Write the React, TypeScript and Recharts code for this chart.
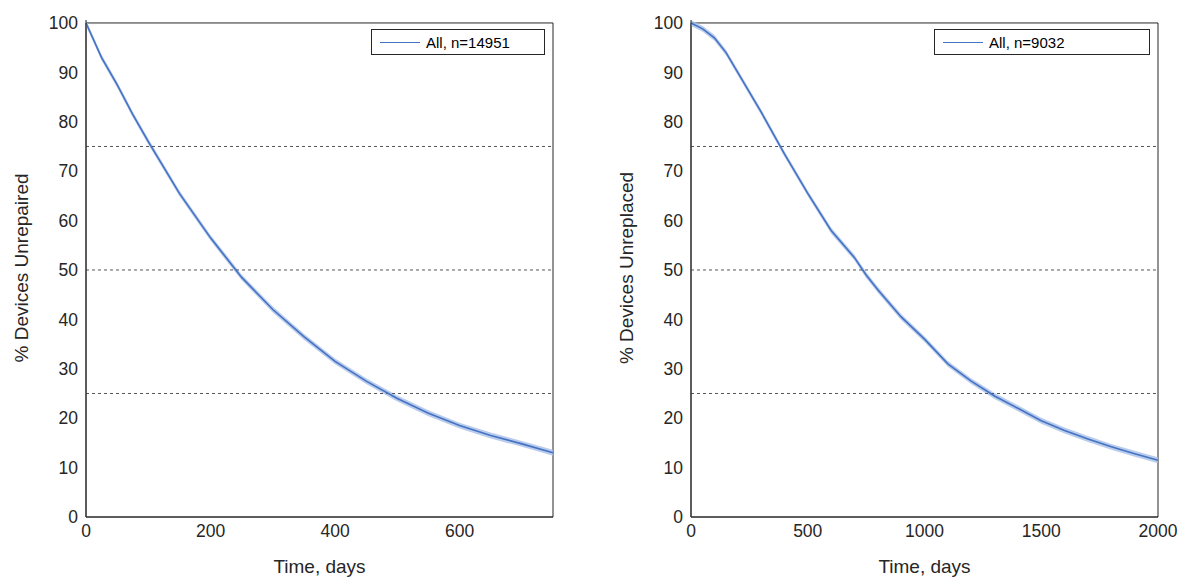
import React from 'react'
import {
  Area,
  ComposedChart,
  Line,
  ReferenceArea,
  ReferenceLine,
  XAxis,
  YAxis,
} from 'recharts'

const repairDays = [0, 25, 50, 75, 100, 150, 200, 250, 300, 350, 400, 450, 500, 550, 600, 650, 700, 750]
const repairPct = [100, 93, 87.5, 81.5, 76, 65.5, 56.5, 48.5, 42, 36.5, 31.5, 27.5, 24, 21, 18.5, 16.5, 14.8, 13]
const replaceDays = [0, 50, 100, 150, 200, 300, 400, 500, 600, 700, 750, 800, 900, 1000, 1100, 1200, 1300, 1400, 1500, 1600, 1700, 1800, 1900, 2000]
const replacePct = [100, 98.8, 97, 94, 90, 82, 73.5, 65.5, 58, 52.5, 49, 46, 40.5, 36, 31, 27.5, 24.5, 22, 19.5, 17.5, 15.8, 14.2, 12.8, 11.5]
const yTicks = [0, 10, 20, 30, 40, 50, 60, 70, 80, 90, 100]
const repairTicks = [0, 200, 400, 600]
const replaceTicks = [0, 500, 1000, 1500, 2000]

const build = (xs: number[], ys: number[]) =>
  xs.map((x, i) => ({ x, y: ys[i], band: [ys[i] - 0.6, ys[i] + 0.6] }))

const font = '"Liberation Sans", Arial, sans-serif'
const tick = { fill: '#262626', fontSize: 17.5, fontFamily: font }

const Panel = ({
  data,
  xMax,
  xTicks,
  yLabel,
  legend,
  left,
  right,
  legendWidth,
  labelX,
}: {
  data: any[]
  xMax: number
  xTicks: number[]
  yLabel: string
  legend: string
  left: number
  right: number
  legendWidth: number
  labelX: number
}) => (
  <div style={{ position: 'relative', width: 592, height: 578 }}>
    <ComposedChart
      width={592}
      height={578}
      data={data}
      margin={{ top: 20, right, bottom: 21, left: left - 60 }}
    >
      <XAxis
        dataKey="x"
        type="number"
        domain={[0, xMax]}
        ticks={xTicks}
        tick={tick}
        tickLine={false}
        axisLine={{ stroke: '#262626' }}
        height={40}
        label={{ value: 'Time, days', position: 'insideBottom', offset: -16, fill: '#262626', fontSize: 19, fontFamily: font }}
      />
      <YAxis
        type="number"
        domain={[0, 100]}
        ticks={yTicks}
        tick={tick}
        tickLine={false}
        axisLine={{ stroke: '#262626' }}
        width={60}
      />
      <ReferenceArea x1={0} x2={xMax} y1={0} y2={100} fill="none" stroke="#262626" strokeOpacity={1} />
      {[25, 50, 75].map((v) => (
        <ReferenceLine key={v} y={v} stroke="#555" strokeDasharray="3 3" />
      ))}
      <Area dataKey="band" stroke="none" fill="#a9bfe6" fillOpacity={0.8} isAnimationActive={false} />
      <Line dataKey="y" stroke="#4472c4" strokeWidth={1.6} dot={false} isAnimationActive={false} />
    </ComposedChart>
    <div
      style={{
        position: 'absolute',
        left: labelX - 150,
        top: 268 - 12,
        width: 300,
        textAlign: 'center',
        transform: 'rotate(-90deg)',
        fontFamily: font,
        fontSize: 19,
        color: '#262626',
        lineHeight: '24px',
      }}
    >
      {yLabel}
    </div>
    <div
      style={{
        position: 'absolute',
        top: 29,
        right: right + 8,
        border: '1px solid #262626',
        background: '#fff',
        width: legendWidth,
        height: 24,
        display: 'flex',
        alignItems: 'center',
        fontFamily: font,
        fontSize: 15,
        color: '#000',
      }}
    >
      <span style={{ display: 'inline-block', width: 40, height: 0, borderTop: '1.6px solid #4472c4', margin: '0 6px 0 8px' }} />
      {legend}
    </div>
  </div>
)

export default function App() {
  return (
    <div style={{ position: 'absolute', top: 0, left: 0, width: 1184, height: 578, background: '#fff', display: 'flex' }}>
      <Panel data={build(repairDays, repairPct)} xMax={750} xTicks={repairTicks} yLabel="% Devices Unrepaired" legend="All, n=14951" left={86} right={39} legendWidth={172} labelX={22} />
      <Panel data={build(replaceDays, replacePct)} xMax={2000} xTicks={replaceTicks} yLabel="% Devices Unreplaced" legend="All, n=9032" left={99} right={26} legendWidth={214} labelX={35} />
    </div>
  )
}
